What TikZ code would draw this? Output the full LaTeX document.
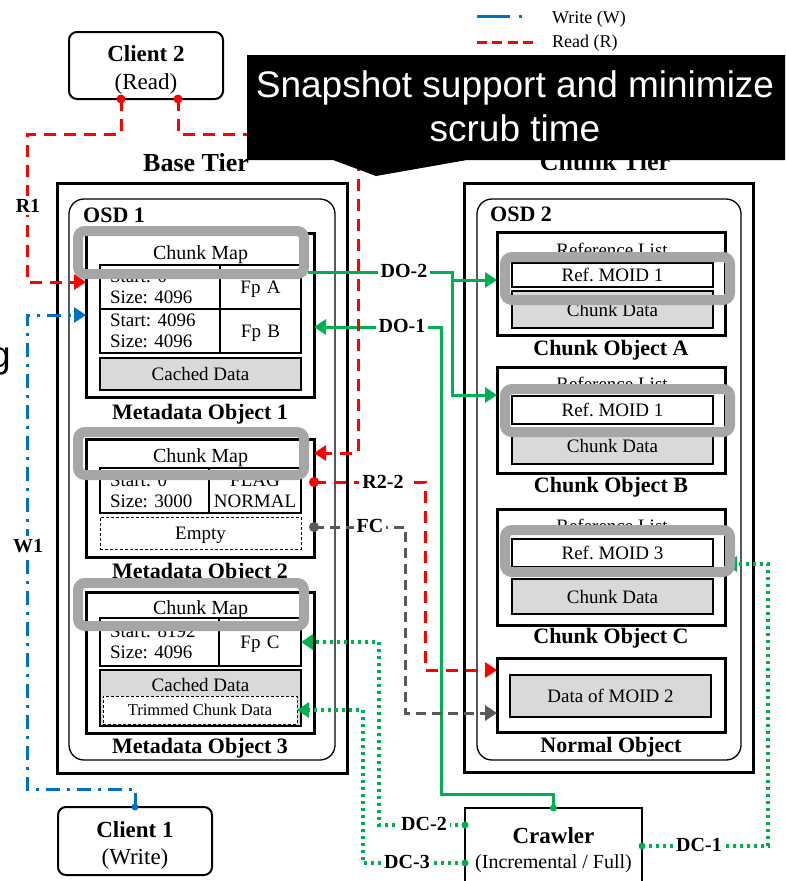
\documentclass[tikz,border=0pt]{standalone}
\usepackage{fontspec}
\setmainfont{Liberation Serif}
\newfontfamily\calloutfont{Liberation Sans}
\usetikzlibrary{arrows.meta,calc}
\frenchspacing

\definecolor{rdcol}{HTML}{FF0000}
\definecolor{grcol}{HTML}{00B050}
\definecolor{blcol}{HTML}{0070C0}
\definecolor{fccol}{HTML}{595959}
\definecolor{hlcol}{HTML}{A6A6A6}
\definecolor{fillgray}{HTML}{D9D9D9}

\newcommand\fReg{\fontsize{19}{21}\selectfont}
\newcommand\fMap{\fontsize{20}{22}\selectfont}
\newcommand\fObj{\bfseries\fontsize{22}{24}\selectfont}
\newcommand\fTier{\bfseries\fontsize{26}{28}\selectfont}
\newcommand\fConn{\bfseries\fontsize{20}{22}\selectfont}
\newcommand\fClient{\fontsize{23}{28}\selectfont}
\newcommand\fSmall{\fontsize{16.5}{18}\selectfont}
\newcommand\fLeg{\fontsize{18}{20}\selectfont}
\newcommand\fDesc{\fontsize{20}{22}\selectfont}
\newcommand\fCall{\calloutfont\fontsize{37}{44}\selectfont}

\begin{document}
\begin{tikzpicture}[x=1pt,y=-1pt,
  box/.style={draw, inner sep=0pt, outer sep=0pt},
  tier/.style={box, line width=3pt},
  osd/.style={box, line width=1.3pt, rounded corners=15pt},
  obj/.style={box, line width=3pt},
  cell/.style={box, line width=1.2pt, anchor=north west, font=\fReg, inner ysep=0pt},
  gbox/.style={box, line width=1.2pt, fill=fillgray, font=\fReg, text depth=0pt},
  dbox/.style={box, line width=1pt, dash pattern=on 3pt off 2pt, fill=white, font=\fReg, text depth=0pt},
  reftag/.style={box, line width=1.5pt, fill=white, font=\fReg, text depth=0pt},
  hl/.style={draw=hlcol, line width=10pt, rounded corners=7pt, inner sep=0pt},
  txt/.style={font=\fReg, anchor=base, inner sep=0pt},
  objname/.style={font=\fObj, anchor=base, inner sep=0pt},
  tiername/.style={font=\fTier, anchor=base, inner sep=0pt},
  osdname/.style={font=\fObj, anchor=base west, inner sep=0pt},
  legtxt/.style={font=\fLeg, anchor=base west, inner sep=0pt},
  client/.style={box, line width=2pt, rounded corners=8pt},
  conlab/.style={font=\fConn, fill=white, inner sep=3pt, anchor=base},
  rdline/.style={draw=rdcol, line width=3pt, dash pattern=on 12pt off 8pt},
  wrline/.style={draw=blcol, line width=3pt, dash pattern=on 14pt off 7pt on 3pt off 7pt},
  doline/.style={draw=grcol, line width=3pt},
  dcline/.style={draw=grcol, line width=3.5pt, dash pattern=on 3pt off 4pt},
  fcline/.style={draw=fccol, line width=3pt, dash pattern=on 10pt off 6pt},
  arrowend/.style={-{Triangle[length=12pt,width=15pt]}}
]
\useasboundingbox (0,0) rectangle (786,881);

% ---------- legend ----------
\node[legtxt] (legW) at (552,23) {Write (W)};
\node[legtxt] (legR) at (552,47) {Read (R)};
\coordinate (legW1) at (477,16); \coordinate (legW2) at (523,16);
\coordinate (legR1) at (477,42); \coordinate (legR2) at (533,42);
\draw[blcol, line width=3pt, dash pattern=on 33pt off 9pt on 3pt off 9pt] (legW1) -- (legW2);
\draw[rdcol, line width=3pt, dash pattern=on 10pt off 5.3pt] (legR1) -- (legR2);

% ---------- tiers and OSDs ----------
\node[tier, minimum width=290pt, minimum height=590pt] (base) at (202,478) {};
\node[tier, minimum width=289pt, minimum height=589pt] (chunk) at (608.5,477.5) {};
\node[tiername] (baseT) at (196,171) {Base Tier};
\node[tiername] (chunkT) at (605,170) {Chunk Tier};
\node[osd, minimum width=266pt, minimum height=561pt] (osd1) at (202,479.5) {};
\node[osd, minimum width=264pt, minimum height=561pt] (osd2) at (609,479.5) {};
\node[osdname] (osd1T) at (83,222) {OSD 1};
\node[osdname] (osd2T) at (490,221) {OSD 2};

% ---------- metadata object 1 ----------
\node[obj, minimum width=228pt, minimum height=164pt] (mo1) at (200,315) {};
\node[txt, font=\fMap] (cm1) at (200.5,259) {Chunk Map};
\node[cell, text width=100pt, inner xsep=10pt, minimum width=120pt, minimum height=44pt, align=left] (t1a) at (100,265) {Start: 0\\Size: 4096};
\node[cell, text width=81pt, inner xsep=0pt, minimum height=44pt, align=center, text depth=0pt] (t1b) at (220,265) {Fp A};
\node[cell, text width=100pt, inner xsep=10pt, minimum width=120pt, minimum height=44pt, align=left] (t1c) at (100,309) {Start: 4096\\Size: 4096};
\node[cell, text width=81pt, inner xsep=0pt, minimum height=44pt, align=center, text depth=0pt] (t1d) at (220,309) {Fp B};
\node[gbox, minimum width=201pt, minimum height=32pt] (cd1) at (200.5,374) {Cached Data};
\node[objname] (mo1T) at (200,419) {Metadata Object 1};

% ---------- metadata object 2 ----------
\node[obj, minimum width=228pt, minimum height=118pt] (mo2) at (200,498) {};
\node[txt, font=\fMap] (cm2) at (200.5,462) {Chunk Map};
\node[cell, text width=89pt, inner xsep=10pt, minimum width=109pt, minimum height=45pt, align=left] (t2a) at (100,468) {Start: 0\\Size: 3000};
\node[cell, text width=92pt, inner xsep=0pt, minimum height=45pt, align=center] (t2b) at (209,468) {FLAG\\NORMAL};
\node[dbox, minimum width=201pt, minimum height=32pt] (empty) at (200.5,533) {Empty};
\node[objname] (mo2T) at (200,578) {Metadata Object 2};

% ---------- metadata object 3 ----------
\node[obj, minimum width=228pt, minimum height=141pt] (mo3) at (200,662.5) {};
\node[txt, font=\fMap] (cm3) at (200.5,614) {Chunk Map};
\node[cell, text width=99pt, inner xsep=10pt, minimum width=119pt, minimum height=48pt, align=left] (t3a) at (100,618) {Start: 8192\\Size: 4096};
\node[cell, text width=82pt, inner xsep=0pt, minimum height=48pt, align=center, text depth=0pt] (t3b) at (219,618) {Fp C};
\node[gbox, minimum width=201pt, minimum height=56pt] (cd3) at (200.5,698) {};
\node[txt] (cd3T) at (200.5,691) {Cached Data};
\node[dbox, font=\fSmall, minimum width=194pt, minimum height=28pt] (trim) at (200,710) {Trimmed Chunk Data};
\node[objname] (mo3T) at (200,753) {Metadata Object 3};

% ---------- chunk objects ----------
\node[obj, minimum width=228pt, minimum height=103pt] (coA) at (611,283.5) {};
\node[txt] (rlA) at (612,256) {Reference List};
\node[reftag, minimum width=201pt, minimum height=24pt] (refA) at (612.5,275) {Ref. MOID 1};
\node[gbox, minimum width=201pt, minimum height=37pt] (cdA) at (612.5,309.5) {Chunk Data};
\node[objname] (coAT) at (611,355) {Chunk Object A};

\node[obj, minimum width=228pt, minimum height=106pt] (coB) at (611,420) {};
\node[txt] (rlB) at (612,390) {Reference List};
\node[reftag, minimum width=201pt, minimum height=28pt] (refB) at (612.5,410) {Ref. MOID 1};
\node[gbox, minimum width=201pt, minimum height=36pt] (cdB) at (612.5,446) {Chunk Data};
\node[objname] (coBT) at (611,492) {Chunk Object B};

\node[obj, minimum width=228pt, minimum height=116pt] (coC) at (611,567) {};
\node[txt] (rlC) at (612,532) {Reference List};
\node[reftag, minimum width=201pt, minimum height=28pt] (refC) at (612.5,553) {Ref. MOID 3};
\node[gbox, minimum width=201pt, minimum height=35pt] (cdC) at (612.5,596.5) {Chunk Data};
\node[objname] (coCT) at (611,643) {Chunk Object C};

\node[obj, minimum width=228pt, minimum height=74pt] (norm) at (611,695) {};
\node[gbox, minimum width=201pt, minimum height=42pt] (dm2) at (610.5,696) {Data of MOID 2};
\node[objname] (normT) at (611,752) {Normal Object};

% ---------- clients and crawler ----------
\node[client, minimum width=154pt, minimum height=67pt] (client2) at (146,65.5) {};
\node[font=\fClient\bfseries, anchor=base, inner sep=0pt] (c2name) at (146,61) {Client 2};
\node[font=\fClient, anchor=base, inner sep=0pt] (c2role) at (146,89) {(Read)};
\node[client, minimum width=154pt, minimum height=68pt] (client1) at (135,841) {};
\node[font=\fClient\bfseries, anchor=base, inner sep=0pt] (c1name) at (135,837) {Client 1};
\node[font=\fClient, anchor=base, inner sep=0pt] (c1role) at (135,864) {(Write)};
\node[box, line width=2.5pt, minimum width=177pt, minimum height=100pt, anchor=north] (crawler) at (553.5,808) {};
\node[font=\fClient\bfseries, anchor=base, inner sep=0pt] (crN) at (553.5,843) {Crawler};
\node[font=\fDesc, anchor=base, inner sep=0pt] (crD) at (553.5,868) {(Incremental / Full)};

% ---------- connector ports ----------
\coordinate (c2a) at ($(client2.south)+(-25,0)$);
\coordinate (c2b) at ($(client2.south)+(32,0)$);
\coordinate (r1k) at (27,134);
\coordinate (r2k) at (358,134);
\coordinate (in1r) at (mo1.west |- 0,282);
\coordinate (in2r) at (mo2.east |- 0,453);
\coordinate (w1k) at (27,789);
\coordinate (in1w) at (mo1.west |- 0,315);
\coordinate (do2s) at (308,272);
\coordinate (do2j) at (452,272);
\coordinate (inA) at (coA.west |- 0,280);
\coordinate (inB) at (coB.west |- 0,395);
\coordinate (do1k) at (441,794);
\coordinate (in1d) at (mo1.east |- 0,327);
\coordinate (r22s) at (mo2.east |- 0,482);
\coordinate (r22k) at (425,670);
\coordinate (inN1) at (norm.west |- 0,670);
\coordinate (fcs) at (mo2.east |- 0,527);
\coordinate (fck) at (405,713);
\coordinate (inN2) at (norm.west |- 0,713);
\coordinate (dc2s) at (crawler.west |- 0,825);
\coordinate (dc3s) at (crawler.west |- 0,863);
\coordinate (dc1s) at (crawler.east |- 0,846);
\coordinate (dc1k) at (768,564);
\coordinate (inC) at (coC.east |- 0,564);

% ---------- connectors ----------
% data object links
\draw[doline, arrowend] (do2s) -- (do2j) |- (inB);
\draw[doline, arrowend] (do2j |- inA) -- (inA);
\draw[doline, arrowend] (crawler.north) |- (do1k) |- (in1d);
% dedup crawler links
\draw[dcline, arrowend] (dc2s) -| ($(t3b.east)+(78,0)$) -- (t3b.east);
\draw[dcline, arrowend] (dc3s) -| ($(trim.east)+(66,0)$) -- (trim.east);
\draw[dcline, arrowend] (dc1s) -| (dc1k) -- (inC);
% read paths
\draw[rdline, arrowend] (c2a) |- (r1k) |- (in1r);
\draw[rdline, arrowend] (c2b) |- (r2k) |- (in2r);
\draw[rdline, arrowend] (r22s) -| (r22k) -- (inN1);
% flush path
\draw[fcline, arrowend] (fcs) -| (fck) -- (inN2);
% write path
\draw[wrline, arrowend] (client1.north) |- (w1k) |- (in1w);

% end dots
\fill[rdcol] (c2a) circle (4.5pt);
\fill[rdcol] (c2b) circle (4.5pt);
\fill[rdcol] (r22s) circle (5pt);
\fill[fccol] (fcs) circle (5pt);
\fill[blcol] (client1.north) circle (3.5pt);
\fill[grcol] (crawler.north) circle (3.5pt);
\fill[grcol] (dc2s) circle (3.5pt);
\fill[grcol] (dc3s) circle (3.5pt);
\fill[grcol] (dc1s) circle (3.5pt);

% connector labels
\node[conlab] (lR1) at (28,212) {R1};
\node[conlab] (lW1) at (28,552) {W1};
\node[conlab] (lDO2) at (404,277) {DO-2};
\node[conlab] (lDO1) at (402,332) {DO-1};
\node[conlab] (lR22) at (383,488) {R2-2};
\node[conlab] (lFC) at (370,532) {FC};
\node[conlab] (lDC2) at (424,830) {DC-2};
\node[conlab] (lDC3) at (407,868) {DC-3};
\node[conlab] (lDC1) at (699,851) {DC-1};

% ---------- highlight frames ----------
\node[hl, minimum width=226pt, minimum height=43pt] (hl1) at (191,252.5) {};
\node[hl, minimum width=226pt, minimum height=43pt] (hl2) at (191,453.5) {};
\node[hl, minimum width=226pt, minimum height=43pt] (hl3) at (191,604.5) {};
\node[hl, minimum width=225pt, minimum height=43pt] (hlA) at (617.5,278.5) {};
\node[hl, minimum width=225pt, minimum height=43pt] (hlB) at (617.5,410.5) {};
\node[hl, minimum width=225pt, minimum height=42pt] (hlC) at (617.5,551) {};

% ---------- callout ----------
\fill[black] (247,55) -- (785,55) -- (785,160) -- (467,160) -- (376,176) -- (333,160) -- (247,160) -- cycle;
\node[font=\fCall, text=white, align=center, inner sep=0pt] (calltxt) at (515,106.5) {Snapshot support and minimize\\scrub time};
\node[font=\fCall, anchor=base east, inner sep=0pt] (gfrag) at (11,367) {g};

\end{tikzpicture}
\end{document}
